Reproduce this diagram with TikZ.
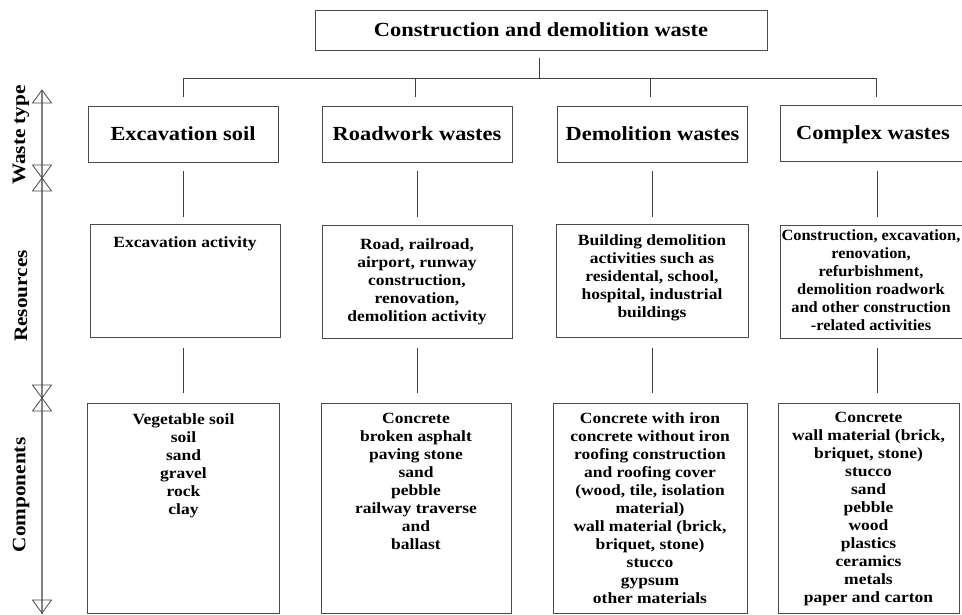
\documentclass[tikz,border=0pt]{standalone}
\usepackage{fontspec}
\newfontfamily\tnr[FakeStretch=1.12]{Liberation Serif}
\newfontfamily\tnrn[FakeStretch=1.05]{Liberation Serif}
\newcommand{\hdfont}{\tnr\bfseries\fontsize{20}{22}\selectfont}
\newcommand{\bdfont}{\tnr\bfseries\fontsize{15.6}{18}\selectfont}
\newcommand{\bdnfont}{\tnrn\bfseries\fontsize{15.6}{18}\selectfont}
\newcommand{\lbfont}{\tnr\bfseries\fontsize{19}{21}\selectfont}
\definecolor{boxc}{HTML}{4A4A4A}
\definecolor{linec}{HTML}{404040}
\definecolor{axisc}{HTML}{808080}
\begin{document}
\begin{tikzpicture}[x=1pt,y=-1pt,
  box/.style={draw=boxc, line width=1pt, inner sep=0pt, align=center},
  hbox/.style={box, font=\hdfont, minimum width=190pt, minimum height=56pt},
  rbox/.style={box, font=\bdfont, minimum width=190pt, minimum height=113pt},
  cbox/.style={box, minimum width=192pt, minimum height=210pt},
  txt/.style={inner sep=0pt, align=center, font=\bdfont, anchor=north},
  conn/.style={draw=linec, line width=1pt},
  axisline/.style={draw=axisc, line width=1.5pt},
  tri/.style={draw=boxc, line width=0.8pt},
  lab/.style={rotate=90, font=\lbfont, inner sep=0pt}]
\useasboundingbox (0,0) rectangle (962,614);
\clip (0,0) rectangle (962,614);
\fill[white] (0,0) rectangle (962,614);

% title
\node[box, font=\hdfont, minimum width=452pt, minimum height=40pt] (title) at (541,30) {Construction and demolition waste};

% waste types
\node[hbox] (w1) at (183,134) {Excavation soil};
\node[hbox] (w2) at (417,134) {Roadwork wastes};
\node[hbox] (w3) at (652.5,134) {Demolition wastes};
\node[hbox] (w4) at (875,133) {};
\node[inner sep=0pt, font=\hdfont] (w4t) at (873,135) {Complex wastes};

% resources
\node[rbox] (r1) at (185,281) {};
\node[txt] (r1t) at (185,236) {Excavation activity};
\node[rbox] (r2) at (417,282) {Road, railroad,\\airport, runway\\construction,\\renovation,\\demolition activity};
\node[rbox, minimum width=192pt] (r3) at (652,281) {};
\node[txt] (r3t) at (652,234) {Building demolition\\activities such as\\residental, school,\\hospital, industrial\\buildings};
\node[rbox] (r4) at (875,281.5) {};
\node[txt, font=\bdnfont] (r4t) at (871,229) {Construction, excavation,\\renovation,\\refurbishment,\\demolition roadwork\\and other construction\\-related activities};

% components
\node[cbox] (c1) at (183.5,508) {};
\node[txt] (c1t) at (183.5,413) {Vegetable soil\\soil\\sand\\gravel\\rock\\clay};
\node[cbox, minimum width=190pt] (c2) at (416,508) {};
\node[txt] (c2t) at (416,413) {Concrete\\broken asphalt\\paving stone\\sand\\pebble\\railway traverse\\and\\ballast};
\node[cbox, minimum width=194pt] (c3) at (650,508) {};
\node[txt] (c3t) at (650,412) {Concrete with iron\\concrete without iron\\roofing construction\\and roofing cover\\(wood, tile, isolation\\material)\\wall material (brick,\\briquet, stone)\\stucco\\gypsum\\other materials};
\node[cbox, minimum width=181pt] (c4) at (868.5,508) {};
\node[txt] (c4t) at (868.5,412) {Concrete\\wall material (brick,\\briquet, stone)\\stucco\\sand\\pebble\\wood\\plastics\\ceramics\\metals\\paper and carton};

% tree connectors
\coordinate (ta) at (539,58);
\coordinate (tb) at (539,78);
\coordinate (hl) at (183,78);
\coordinate (hr) at (877,78);
\draw[conn] (ta) -- (tb);
\draw[conn] (hl) -- (hr);
\foreach \x/\n in {183/1,415/2,650/3,876/4}{
  \coordinate (d\n a) at (\x,78);
  \coordinate (d\n b) at (\x,97);
  \draw[conn] (d\n a) -- (d\n b);
}
\foreach \x/\n in {183/1,417/2,652/3,877/4}{
  \coordinate (e\n a) at (\x,171);
  \coordinate (e\n b) at (\x,217);
  \draw[conn] (e\n a) -- (e\n b);
  \coordinate (f\n a) at (\x,348);
  \coordinate (f\n b) at (\x,393);
  \draw[conn] (f\n a) -- (f\n b);
}

% left axis
\coordinate (ax0) at (42,90);
\coordinate (ax1) at (42,614);
\draw[axisline] (ax0) -- (ax1);
\draw[tri] (32.5,103) -- (42,90) -- (51.5,103) -- cycle;
\draw[tri] (32.5,165) -- (42,178) -- (51.5,165) -- cycle;
\draw[tri] (32.5,191) -- (42,178) -- (51.5,191) -- cycle;
\draw[tri] (32.5,385) -- (42,398) -- (51.5,385) -- cycle;
\draw[tri] (32.5,411) -- (42,398) -- (51.5,411) -- cycle;
\draw[tri] (32.5,600) -- (42,613) -- (51.5,600) -- cycle;

% axis labels
\node[lab] (l1) at (21,135) {Waste type};
\node[lab] (l2) at (21,296) {Resources};
\node[lab] (l3) at (21,495) {Components};
\end{tikzpicture}
\end{document}
